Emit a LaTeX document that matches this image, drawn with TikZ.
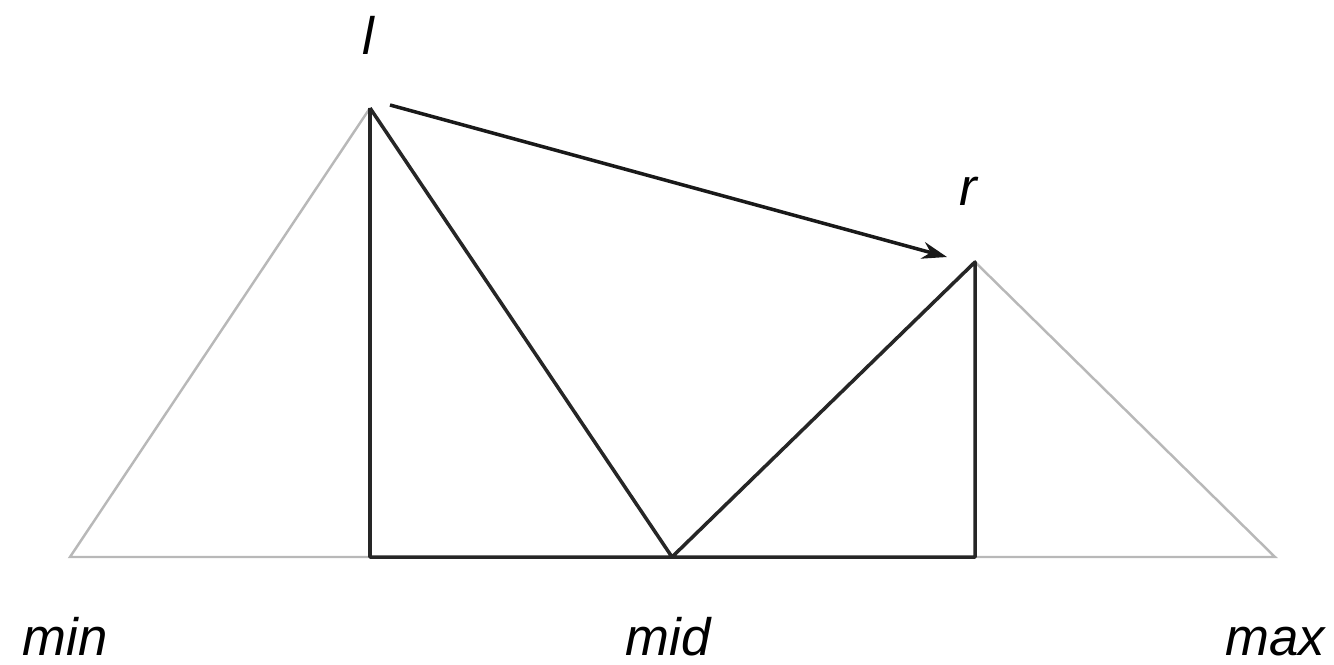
\documentclass[tikz,border=0pt]{standalone}
\usepackage{fontspec}
\setmainfont{Liberation Sans}
\usetikzlibrary{arrows.meta, positioning}

\begin{document}
\begin{tikzpicture}[
  x=0.02cm, y=-0.02cm,
  font=\fontsize{30}{36}\selectfont\itshape,
  lbl/.style={inner sep=0pt, anchor=base},
  side/.style={draw=black!28, line width=1.4pt},
  edge/.style={draw=black!85, line width=2pt, line join=round},
  arr/.style={-{Stealth[length=5mm, width=3.4mm]}, line width=2pt, draw=black!90},
]
\useasboundingbox (0,0) rectangle (1334,664);
\coordinate (pmin) at (70,557);
\coordinate (lbase) at (370,557);
\coordinate (ltop) at (370,108);
\coordinate (pmid) at (672,557);
\coordinate (rtop) at (975,262);
\coordinate (rbase) at (975,557);
\coordinate (pmax) at (1275,557);
\coordinate (astart) at (390,105);
\coordinate (aend) at (947,257);
\node[lbl] (min) at (65,655) {min};
\node[lbl] (mid) at (668,655) {mid};
\node[lbl] (max) at (1275,655) {max};
\node[lbl] (l) at (368,54) {l};
\node[lbl] (r) at (968,205) {r};
% outer gray sides
\draw[side] (lbase) -- (pmin) -- (ltop);
\draw[side] (rtop) -- (pmax) -- (rbase);
% inner triangles
\draw[edge] (ltop) -- (lbase) -- (rbase) -- (rtop) -- (pmid) -- (ltop);
\draw[arr] (astart) -- (aend);
\end{tikzpicture}
\end{document}
